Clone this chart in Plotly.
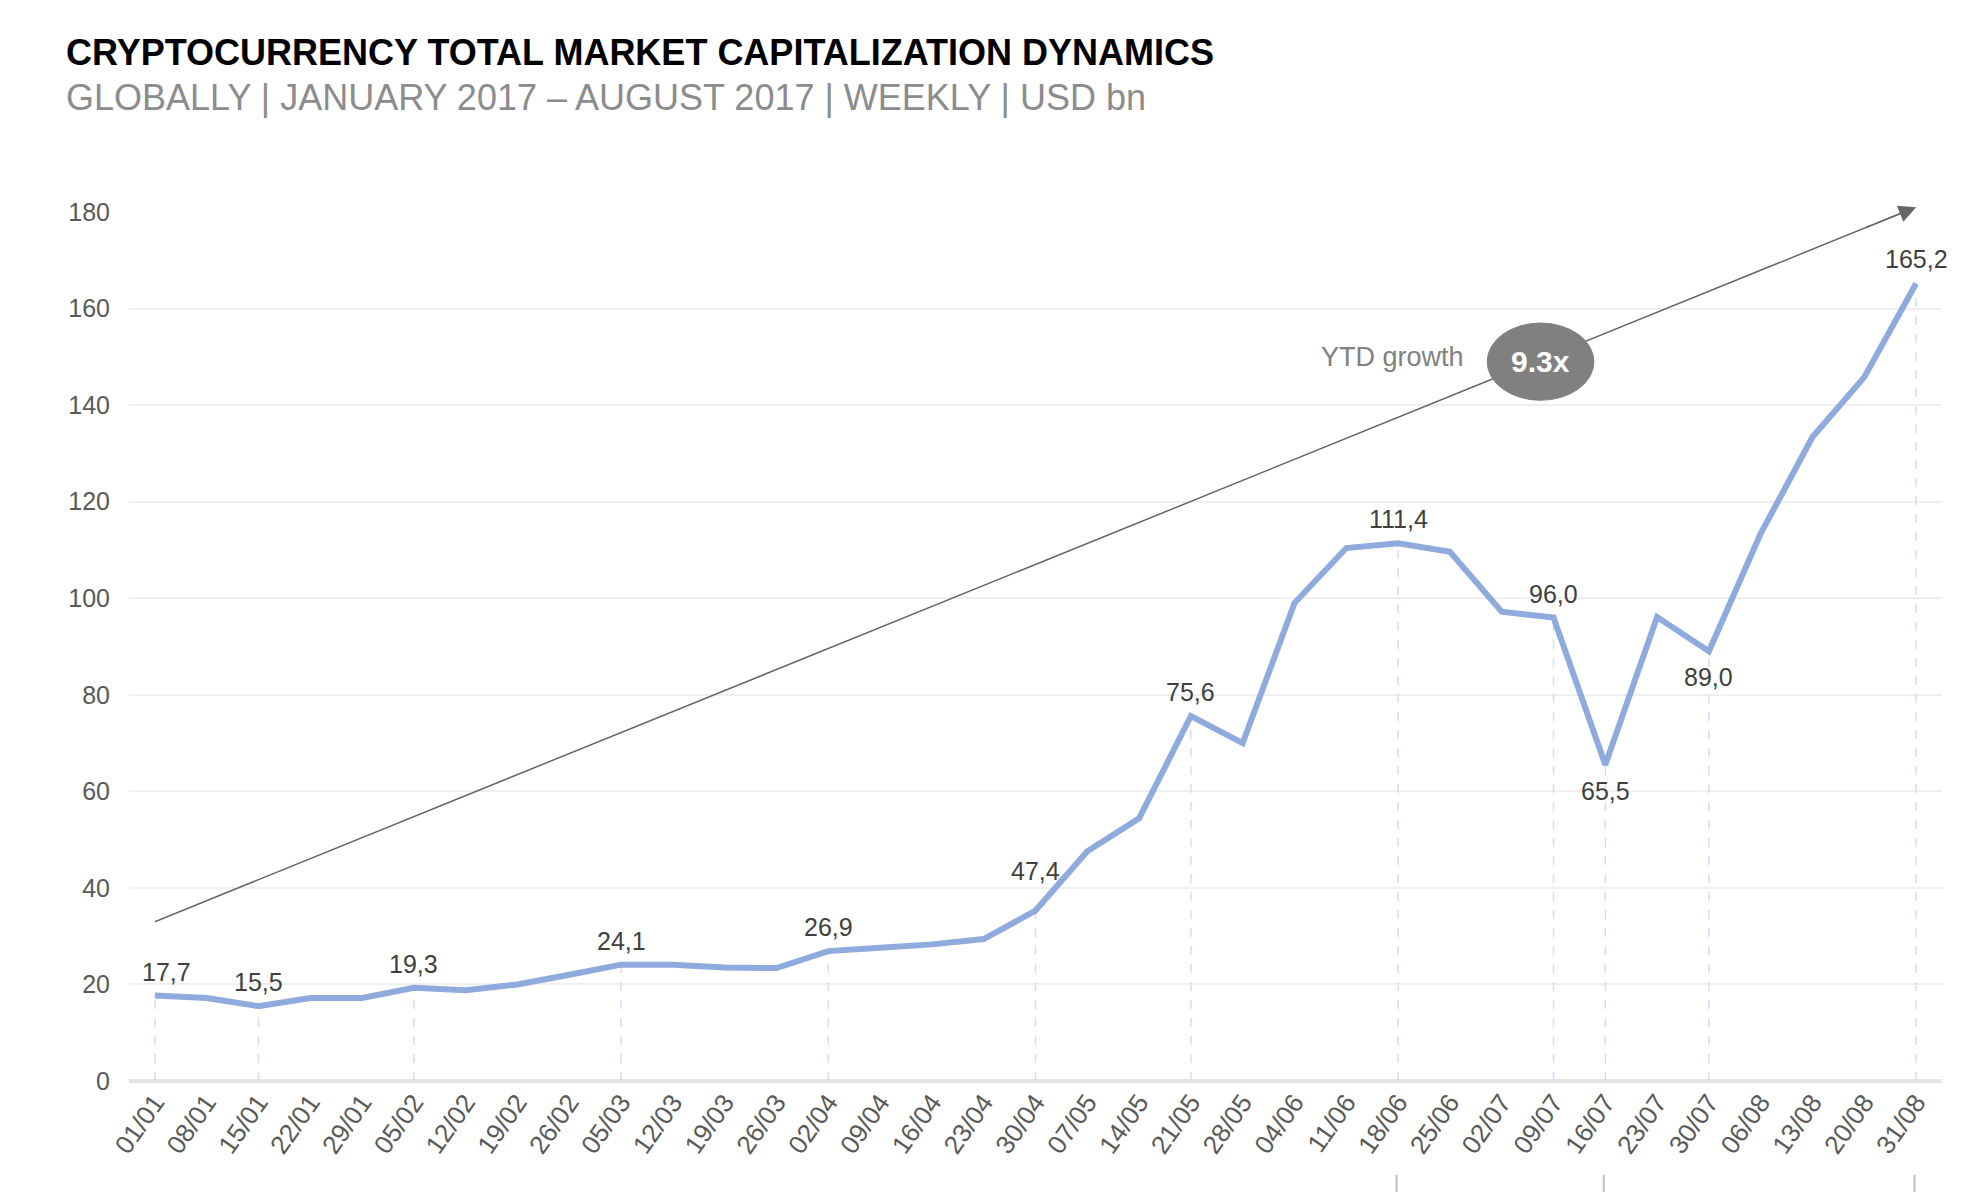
import plotly.graph_objects as go

# Weekly dates (dd/mm), 2017
weeks = ["01/01", "08/01", "15/01", "22/01", "29/01", "05/02", "12/02", "19/02", "26/02",
         "05/03", "12/03", "19/03", "26/03", "02/04", "09/04", "16/04", "23/04", "30/04",
         "07/05", "14/05", "21/05", "28/05", "04/06", "11/06", "18/06", "25/06", "02/07",
         "09/07", "16/07", "23/07", "30/07", "06/08", "13/08", "20/08", "31/08"]

# Total market cap, USD bn
market_cap = [17.7, 17.2, 15.5, 17.2, 17.2, 19.3, 18.8, 20.0, 22.0,
              24.1, 24.1, 23.5, 23.4, 26.9, 27.6, 28.3, 29.4, 35.3,
              47.6, 54.4, 75.6, 70.0, 99.0, 110.4, 111.4, 109.6, 97.2,
              96.0, 65.5, 96.1, 89.0, 113.4, 133.4, 145.8, 165.2]

# labelled weeks and the text printed next to them
label_idx = [0, 2, 5, 9, 13, 17, 20, 24, 27, 28, 30, 34]
label_text = ["17,7", "15,5", "19,3", "24,1", "26,9", "47,4", "75,6",
              "111,4", "96,0", "65,5", "89,0", "165,2"]
label_below = [28, 30]

# YTD growth arrow (start / end level) and multiple
trend_y = [33, 181]
ytd_growth = "9.3x"

BLUE = "#8FAADC"
GREY_TXT = "#595959"
ARROW = "#666666"

fig = go.Figure()

# dashed drop lines under the labelled points
drop_x, drop_y = [], []
for i in label_idx:
    drop_x += [weeks[i], weeks[i], None]
    drop_y += [0, market_cap[i], None]
fig.add_trace(go.Scatter(
    x=drop_x, y=drop_y, mode="lines",
    line=dict(color="#D3DEF2", width=1.5, dash="dash"),
    hoverinfo="skip", showlegend=False))

# trend line
fig.add_trace(go.Scatter(
    x=[weeks[0], weeks[-1]], y=trend_y, mode="lines",
    line=dict(color=ARROW, width=1.5),
    cliponaxis=False, hoverinfo="skip", showlegend=False))

# main series
fig.add_trace(go.Scatter(
    x=weeks, y=market_cap, mode="lines",
    line=dict(color=BLUE, width=6),
    name="Market cap", showlegend=False))

# arrow head at the end of the trend line
n = len(weeks) - 1
slope = (trend_y[1] - trend_y[0]) / n
fig.add_annotation(x=n, y=trend_y[1], ax=n - 1, ay=trend_y[1] - slope,
                   xref="x", yref="y", axref="x", ayref="y", text="",
                   showarrow=True, arrowhead=2, arrowsize=2.3, arrowwidth=1.5,
                   arrowcolor=ARROW)

# value labels
for i, t in zip(label_idx, label_text):
    shift = 24
    if i in label_below:
        shift = -26
    if t == "47,4":
        shift = 40
    fig.add_annotation(x=weeks[i], y=market_cap[i], text=t, showarrow=False,
                       yshift=shift, xshift=12 if i == 0 else 0,
                       font=dict(size=25, color="#404040"))

# YTD growth bubble
fig.add_shape(type="circle", xref="x", yref="y",
              x0=25.72, x1=27.78, y0=141, y1=157,
              fillcolor="#808080", line=dict(color="#808080", width=1), layer="above")
fig.add_annotation(x=26.75, y=149, text="<b>" + ytd_growth + "</b>", showarrow=False,
                   font=dict(size=30, color="white"))
fig.add_annotation(x=23.9, y=150, text="YTD growth", showarrow=False,
                   font=dict(size=27, color="#808080"))

# titles
fig.add_annotation(xref="paper", yref="paper", x=-0.0356, y=1.183, xanchor="left",
                   yanchor="middle", showarrow=False,
                   text="<b>CRYPTOCURRENCY TOTAL MARKET CAPITALIZATION DYNAMICS</b>",
                   font=dict(size=36, color="#000000"))
fig.add_annotation(xref="paper", yref="paper", x=-0.0356, y=1.132, xanchor="left",
                   yanchor="middle", showarrow=False,
                   text="GLOBALLY | JANUARY 2017 \u2013 AUGUST 2017 | WEEKLY | USD bn",
                   font=dict(size=36, color="#8C8C8C"))

# little cut-off marks at the very bottom
for i in [24, 28, 34]:
    fig.add_shape(type="line", xref="x", yref="paper", x0=i - 0.03, x1=i - 0.03,
                  y0=-0.108, y1=-0.14, line=dict(color="#BFBFBF", width=2))

fig.update_layout(
    width=1975, height=1192,
    margin=dict(l=121, r=41, t=204, b=119),
    plot_bgcolor="white", paper_bgcolor="white",
    font=dict(family="Arial, Liberation Sans, sans-serif", color=GREY_TXT),
    xaxis=dict(type="category", categoryorder="array", categoryarray=weeks,
               range=[-0.5, 34.5], showgrid=False, ticks="",
               tickangle=-55, tickfont=dict(size=26, color=GREY_TXT)),
    yaxis=dict(range=[0, 180], dtick=20, gridcolor="#EFEFEF", gridwidth=2,
               zeroline=True, zerolinecolor="#E4E4E4", zerolinewidth=4,
               ticklabelstandoff=18, tickfont=dict(size=25, color=GREY_TXT)),
)

fig.write_html("out.html")
